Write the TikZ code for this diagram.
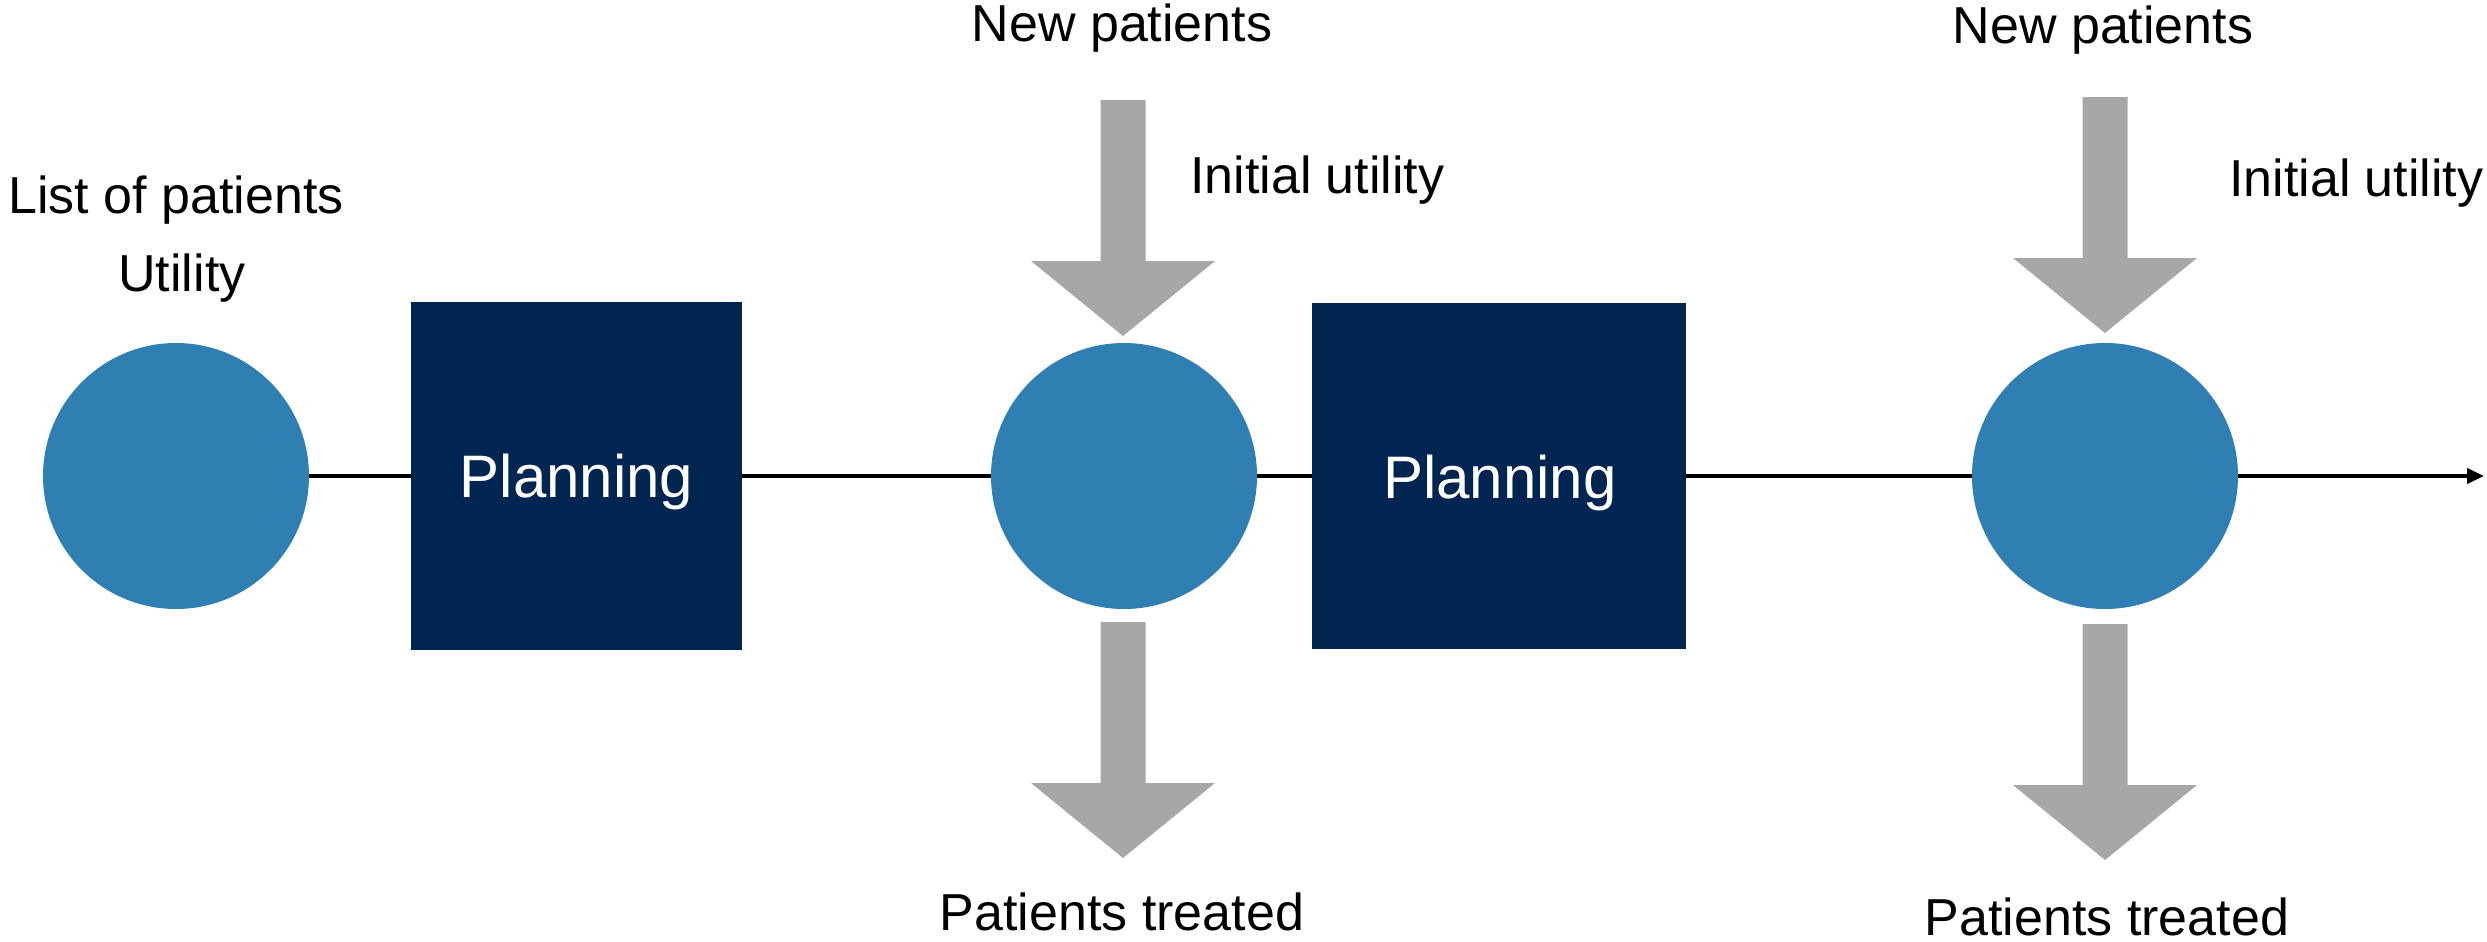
\documentclass[tikz,border=0pt]{standalone}
\usepackage{fontspec}
\setmainfont{Liberation Sans}
\usetikzlibrary{arrows.meta}

\definecolor{stateblue}{RGB}{47,127,178}
\definecolor{plannavy}{RGB}{1,37,81}
\definecolor{flowgray}{RGB}{165,168,167}

\begin{document}
\begin{tikzpicture}[x=1pt,y=-1pt,
  state/.style={circle,fill=stateblue,minimum size=266pt,inner sep=0pt},
  planbox/.style={rectangle,fill=plannavy,inner sep=0pt,text=white,
    font=\fontsize{60}{70}\selectfont},
  lbl/.style={font=\fontsize{52}{60}\selectfont,inner sep=0pt},
  link/.style={line width=4pt,black},
  flow/.pic={\fill[flowgray] (0,0) -- (92,-75) -- (22.5,-75) -- (22.5,-236)
      -- (-22.5,-236) -- (-22.5,-75) -- (-92,-75) -- cycle;}
]
\useasboundingbox (0,0) rectangle (2487,942);

% states and planning steps along the time line
\node[state] (c1) at (176,476) {};
\node[planbox,minimum width=331pt,minimum height=348pt] (p1) at (576.5,476) {};
\node[state] (c2) at (1124,476) {};
\node[planbox,minimum width=374pt,minimum height=346pt] (p2) at (1499,476) {};
\node[state] (c3) at (2105,476) {};
\coordinate (end) at (2484,476);

\node[planbox,anchor=base] (t1) at (576.5,497) {Planning};
\node[planbox,anchor=base] (t2) at (1500,498) {Planning};

% time line
\draw[link] (c1) -- (p1);
\draw[link] (p1) -- (c2);
\draw[link] (c2) -- (p2);
\draw[link] (p2) -- (c3);
\draw[link,-{Triangle[length=17pt,width=15pt]}] (c3) -- (end);

% incoming and outgoing patient flows
\pic at (1123,336) {flow};
\pic at (1123,858) {flow};
\pic at (2105,333) {flow};
\pic at (2105,860) {flow};

% labels
\node[lbl,anchor=base] (l1) at (176,213) {List of patients};
\node[lbl,anchor=base] (l2) at (182,291) {Utility};
\node[lbl,anchor=base] (n1) at (1122,42) {New patients};
\node[lbl,anchor=base west] (i1) at (1190,193) {Initial utility};
\node[lbl,anchor=base] (o1) at (1122,930) {Patients treated};
\node[lbl,anchor=base] (n2) at (2103,44) {New patients};
\node[lbl,anchor=base west] (i2) at (2229,196) {Initial utility};
\node[lbl,anchor=base] (o2) at (2107,935) {Patients treated};
\end{tikzpicture}
\end{document}
